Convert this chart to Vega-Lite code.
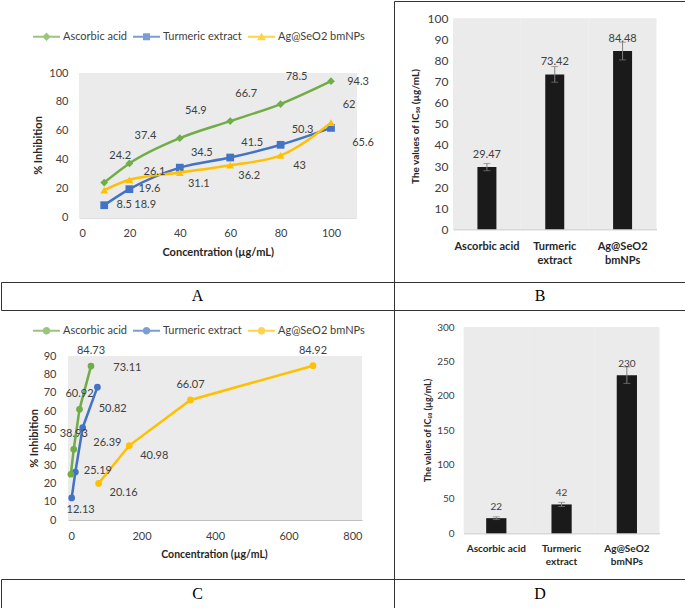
{
  "$schema": "https://vega.github.io/schema/vega-lite/v6.json",
  "padding": 0,
  "columns": 2,
  "spacing": 0,
  "bounds": "flush",
  "resolve": {"scale": {"color": "independent", "shape": "independent"}, "legend": {"color": "independent", "shape": "independent"}},
  "config": {
    "view": {"stroke": null},
    "font": "Lato",
    "text": {"font": "Lato"},
    "axis": {"grid": false, "ticks": false, "tickSize": 0, "labelFont": "Lato", "titleFont": "Lato", "labelColor": "#404040", "titleColor": "#262626"}
  },
  "datasets": {
    "a": [
      {"s": "Ascorbic acid", "x": 10, "v": 24.2},
      {"s": "Ascorbic acid", "x": 20, "v": 37.4},
      {"s": "Ascorbic acid", "x": 40, "v": 54.9},
      {"s": "Ascorbic acid", "x": 60, "v": 66.7},
      {"s": "Ascorbic acid", "x": 80, "v": 78.5},
      {"s": "Ascorbic acid", "x": 100, "v": 94.3},
      {"s": "Turmeric extract", "x": 10, "v": 8.5},
      {"s": "Turmeric extract", "x": 20, "v": 19.6},
      {"s": "Turmeric extract", "x": 40, "v": 34.5},
      {"s": "Turmeric extract", "x": 60, "v": 41.5},
      {"s": "Turmeric extract", "x": 80, "v": 50.3},
      {"s": "Turmeric extract", "x": 100, "v": 62},
      {"s": "Ag@SeO2 bmNPs", "x": 10, "v": 18.9},
      {"s": "Ag@SeO2 bmNPs", "x": 20, "v": 26.1},
      {"s": "Ag@SeO2 bmNPs", "x": 40, "v": 31.1},
      {"s": "Ag@SeO2 bmNPs", "x": 60, "v": 36.2},
      {"s": "Ag@SeO2 bmNPs", "x": 80, "v": 43},
      {"s": "Ag@SeO2 bmNPs", "x": 100, "v": 65.6}
    ],
    "c": [
      {"s": "Ascorbic acid", "x": 7.8, "v": 25.19},
      {"s": "Ascorbic acid", "x": 15.6, "v": 38.93},
      {"s": "Ascorbic acid", "x": 31.25, "v": 60.92},
      {"s": "Ascorbic acid", "x": 62.5, "v": 84.73},
      {"s": "Turmeric extract", "x": 10, "v": 12.13},
      {"s": "Turmeric extract", "x": 20, "v": 26.39},
      {"s": "Turmeric extract", "x": 40, "v": 50.82},
      {"s": "Turmeric extract", "x": 80, "v": 73.11},
      {"s": "Ag@SeO2 bmNPs", "x": 83.3, "v": 20.16},
      {"s": "Ag@SeO2 bmNPs", "x": 166.7, "v": 40.98},
      {"s": "Ag@SeO2 bmNPs", "x": 333.3, "v": 66.07},
      {"s": "Ag@SeO2 bmNPs", "x": 666.7, "v": 84.92}
    ],
    "b": [
      {"c": "Ascorbic acid", "v": 29.47, "err": 1.7},
      {"c": "Turmeric extract", "v": 73.42, "err": 3.7},
      {"c": "Ag@SeO2 bmNPs", "v": 84.48, "err": 4.2}
    ],
    "d": [
      {"c": "Ascorbic acid", "v": 22, "err": 2},
      {"c": "Turmeric extract", "v": 42, "err": 3},
      {"c": "Ag@SeO2 bmNPs", "v": 230, "err": 12}
    ]
  },
  "concat": [
    {
      "width": 393, "height": 281,
      "data": {"name": "a"},
      "encoding": {
        "x": {"field": "x", "type": "quantitative", "title": "Concentration (µg/mL)",
          "scale": {"domain": [0, 110], "range": [78, 355.2]},
          "axis": {"values": [0, 20, 40, 60, 80, 100], "offset": -64.5, "domainColor": "#bfbfbf", "labelFontSize": 11, "labelPadding": 16, "labelBaseline": "middle", "titleFontSize": 11, "titleFontWeight": "bold", "titleX": 216.7, "titleY": 35, "titleBaseline": "middle"}},
        "y": {"field": "v", "type": "quantitative", "title": "% Inhibition",
          "scale": {"domain": [0, 100], "range": [216.5, 72]},
          "axis": {"values": [0, 20, 40, 60, 80, 100], "offset": -78, "domain": false, "labelFontSize": 11, "labelPadding": 11, "labelBaseline": "middle", "titleFontSize": 11, "titleFontWeight": "bold", "titleX": -40.3, "titleY": 144, "titleBaseline": "middle"}}
      },
      "layer": [
        {"mark": {"type": "rect", "color": "#ebebeb"},
         "encoding": {"x": {"datum": 0}, "x2": {"datum": 110}, "y": {"datum": 0}, "y2": {"datum": 100}}},
        {"transform": [{"filter": "datum.s == 'Turmeric extract'"}],
         "mark": {"type": "line", "color": "#4472C4", "strokeWidth": 2.5, "interpolate": "monotone", "point": {"shape": "square", "size": 60, "filled": true, "color": "#4472C4"}}},
        {"transform": [{"filter": "datum.s == 'Ag@SeO2 bmNPs'"}],
         "mark": {"type": "line", "color": "#FFC000", "strokeWidth": 2.5, "interpolate": "monotone", "point": {"shape": "triangle-up", "size": 60, "filled": true, "color": "#FFC000"}}},
        {"transform": [{"filter": "datum.s == 'Ascorbic acid'"}],
         "mark": {"type": "line", "color": "#70AD47", "strokeWidth": 2.5, "interpolate": "monotone", "point": {"shape": "diamond", "size": 60, "filled": true, "color": "#70AD47"}}},
        {"transform": [{"filter": "false"}],
         "mark": {"type": "point", "filled": true},
         "encoding": {
           "color": {"field": "s", "type": "nominal", "scale": {"domain": ["Ascorbic acid", "Turmeric extract", "Ag@SeO2 bmNPs"], "range": ["#70AD47", "#4472C4", "#FFC000"]},
             "legend": {"orient": "none", "legendX": 40, "legendY": 30, "direction": "horizontal", "title": null, "symbolSize": 100, "symbolStrokeWidth": 0, "labelFont": "Lato", "labelFontSize": 11, "labelColor": "#404040", "labelOffset": 11, "columnPadding": 6, "padding": 0, "labelLimit": 200}},
           "shape": {"field": "s", "type": "nominal", "scale": {"domain": ["Ascorbic acid", "Turmeric extract", "Ag@SeO2 bmNPs"], "range": ["M-2.7,-0.2H2.7V0.2H-2.7Z M0,-0.85L0.85,0L0,0.85L-0.85,0Z", "M-2.7,-0.2H2.7V0.2H-2.7Z M-0.7,-0.7H0.7V0.7H-0.7Z", "M-2.7,-0.2H2.7V0.2H-2.7Z M0,-0.85L0.9,0.7H-0.9Z"]},
             "legend": {"orient": "none", "legendX": 40, "legendY": 30, "direction": "horizontal", "title": null, "symbolSize": 100, "symbolStrokeWidth": 0, "labelFont": "Lato", "labelFontSize": 11, "labelColor": "#404040", "labelOffset": 11, "columnPadding": 6, "padding": 0, "labelLimit": 200}}
         }},
        {"transform": [{"filter": "datum.s == 'Ascorbic acid' && datum.x < 100"}], "mark": {"type": "text", "dx": 16, "dy": -27, "fontSize": 11, "color": "#404040"}, "encoding": {"text": {"field": "v", "type": "nominal"}}},
        {"transform": [{"filter": "datum.s == 'Ascorbic acid' && datum.x == 100"}], "mark": {"type": "text", "dx": 27, "dy": 1, "fontSize": 11, "color": "#404040"}, "encoding": {"text": {"field": "v", "type": "nominal"}}},
        {"transform": [{"filter": "datum.s == 'Turmeric extract' && datum.x <= 20"}], "mark": {"type": "text", "dx": 20, "dy": 0, "fontSize": 11, "color": "#404040"}, "encoding": {"text": {"field": "v", "type": "nominal"}}},
        {"transform": [{"filter": "datum.s == 'Turmeric extract' && datum.x >= 40 && datum.x <= 80"}], "mark": {"type": "text", "dx": 22, "dy": -15, "fontSize": 11, "color": "#404040"}, "encoding": {"text": {"field": "v", "type": "nominal"}}},
        {"transform": [{"filter": "datum.s == 'Turmeric extract' && datum.x == 100"}], "mark": {"type": "text", "dx": 18, "dy": -23, "fontSize": 11, "color": "#404040"}, "encoding": {"text": {"field": "v", "type": "nominal"}}},
        {"transform": [{"filter": "datum.s == 'Ag@SeO2 bmNPs' && datum.x == 10"}], "mark": {"type": "text", "dx": 41, "dy": 15, "fontSize": 11, "color": "#404040"}, "encoding": {"text": {"field": "v", "type": "nominal"}}},
        {"transform": [{"filter": "datum.s == 'Ag@SeO2 bmNPs' && datum.x == 20"}], "mark": {"type": "text", "dx": 25, "dy": -8, "fontSize": 11, "color": "#404040"}, "encoding": {"text": {"field": "v", "type": "nominal"}}},
        {"transform": [{"filter": "datum.s == 'Ag@SeO2 bmNPs' && datum.x >= 40 && datum.x <= 80"}], "mark": {"type": "text", "dx": 19, "dy": 11, "fontSize": 11, "color": "#404040"}, "encoding": {"text": {"field": "v", "type": "nominal"}}},
        {"transform": [{"filter": "datum.s == 'Ag@SeO2 bmNPs' && datum.x == 100"}], "mark": {"type": "text", "dx": 32, "dy": 20, "fontSize": 11, "color": "#404040"}, "encoding": {"text": {"field": "v", "type": "nominal"}}}
      ]
    },
    {
      "width": 292, "height": 281,
      "view": {"stroke": "#333", "strokeWidth": 1},
      "data": {"name": "b"},
      "encoding": {
        "x": {"field": "c", "type": "nominal", "sort": null, "title": null,
          "scale": {"type": "band", "domain": ["Ascorbic acid", "Turmeric extract", "Ag@SeO2 bmNPs"], "range": [59, 262.5], "paddingInner": 0.72, "paddingOuter": 0.36},
          "axis": {"offset": -52.7, "labelAngle": 0, "domainColor": "#bfbfbf", "labelFontSize": 11, "labelFontWeight": "bold", "labelColor": "#262626", "labelPadding": 11, "labelBaseline": "top", "labelLineHeight": 14, "labelLimit": 200, "labelExpr": "datum.label == 'Ascorbic acid' ? datum.label : split(datum.label, ' ')"}},
        "y": {"field": "v", "type": "quantitative", "title": "The values of IC₅₀ (µg/mL)",
          "scale": {"domain": [0, 100], "range": [228.3, 17.3]},
          "axis": {"values": [0, 10, 20, 30, 40, 50, 60, 70, 80, 90, 100], "offset": -59, "domain": false, "labelFontSize": 12, "labelPadding": 5, "labelBaseline": "middle", "titleFontSize": 10, "titleFontWeight": "bold", "titleX": -38, "titleY": 125, "titleBaseline": "middle"}}
      },
      "layer": [
        {"mark": {"type": "bar", "fill": "#ebebeb", "width": {"band": 3.5714}}, "encoding": {"y": {"datum": 100}, "y2": {"datum": 0}}},
        {"mark": {"type": "bar", "fill": "#1a1a1a"}},
        {"mark": {"type": "errorbar", "color": "#7f7f7f", "ticks": {"size": 7}}, "encoding": {"yError": {"field": "err"}}},
        {"mark": {"type": "text", "dy": -12, "fontSize": 11, "color": "#404040"}, "encoding": {"text": {"field": "v", "type": "nominal"}}}
      ]
    },
    {
      "width": 393, "height": 28,
      "view": {"stroke": "#333", "strokeWidth": 1},
      "data": {"values": [{"t": "A"}]},
      "mark": {"type": "text", "font": "Liberation Serif", "fontSize": 16, "color": "#000"},
      "encoding": {"text": {"field": "t"}}
    },
    {
      "width": 292, "height": 28,
      "view": {"stroke": "#333", "strokeWidth": 1},
      "data": {"values": [{"t": "B"}]},
      "mark": {"type": "text", "font": "Liberation Serif", "fontSize": 16, "color": "#000"},
      "encoding": {"text": {"field": "t"}}
    },
    {
      "width": 393, "height": 269,
      "data": {"name": "c"},
      "encoding": {
        "x": {"field": "x", "type": "quantitative", "title": "Concentration (µg/mL)",
          "scale": {"domain": [0, 800], "range": [67, 361]},
          "axis": {"values": [0, 200, 400, 600, 800], "offset": -59, "domainColor": "#bfbfbf", "labelFontSize": 11, "labelPadding": 16, "labelBaseline": "middle", "titleFontSize": 10.5, "titleFontWeight": "bold", "titleX": 213, "titleY": 34, "titleBaseline": "middle"}},
        "y": {"field": "v", "type": "quantitative", "title": "% Inhibition",
          "scale": {"domain": [0, 90], "range": [210, 46.5]},
          "axis": {"values": [0, 10, 20, 30, 40, 50, 60, 70, 80, 90], "offset": -67, "domain": false, "labelFontSize": 11, "labelPadding": 12, "labelBaseline": "middle", "titleFontSize": 11, "titleFontWeight": "bold", "titleX": -34, "titleY": 128, "titleBaseline": "middle"}}
      },
      "layer": [
        {"mark": {"type": "rect", "color": "#ebebeb"},
         "encoding": {"x": {"datum": 0}, "x2": {"datum": 800}, "y": {"datum": 0}, "y2": {"datum": 90}}},
        {"transform": [{"filter": "datum.s == 'Ag@SeO2 bmNPs'"}],
         "mark": {"type": "line", "color": "#FFC000", "strokeWidth": 2.5, "point": {"shape": "circle", "size": 45, "filled": true, "color": "#FFC000"}}},
        {"transform": [{"filter": "datum.s == 'Turmeric extract'"}],
         "mark": {"type": "line", "color": "#4472C4", "strokeWidth": 2.5, "point": {"shape": "circle", "size": 45, "filled": true, "color": "#4472C4"}}},
        {"transform": [{"filter": "datum.s == 'Ascorbic acid'"}],
         "mark": {"type": "line", "color": "#70AD47", "strokeWidth": 2.5, "point": {"shape": "circle", "size": 45, "filled": true, "color": "#70AD47"}}},
        {"transform": [{"filter": "false"}],
         "mark": {"type": "point", "filled": true},
         "encoding": {
           "color": {"field": "s", "type": "nominal", "scale": {"domain": ["Ascorbic acid", "Turmeric extract", "Ag@SeO2 bmNPs"], "range": ["#70AD47", "#4472C4", "#FFC000"]},
             "legend": {"orient": "none", "legendX": 40, "legendY": 15, "direction": "horizontal", "title": null, "symbolSize": 100, "symbolStrokeWidth": 0, "labelFont": "Lato", "labelFontSize": 11, "labelColor": "#404040", "labelOffset": 11, "columnPadding": 6, "padding": 0, "labelLimit": 200}},
           "shape": {"field": "s", "type": "nominal", "scale": {"domain": ["Ascorbic acid", "Turmeric extract", "Ag@SeO2 bmNPs"], "range": ["M-2.7,-0.2H2.7V0.2H-2.7Z M-0.75,0A0.75,0.75 0 1,1 0.75,0A0.75,0.75 0 1,1 -0.75,0Z", "M-2.7,-0.2H2.7V0.2H-2.7Z M-0.75,0A0.75,0.75 0 1,1 0.75,0A0.75,0.75 0 1,1 -0.75,0Z", "M-2.7,-0.2H2.7V0.2H-2.7Z M-0.75,0A0.75,0.75 0 1,1 0.75,0A0.75,0.75 0 1,1 -0.75,0Z"]},
             "legend": {"orient": "none", "legendX": 40, "legendY": 15, "direction": "horizontal", "title": null, "symbolSize": 100, "symbolStrokeWidth": 0, "labelFont": "Lato", "labelFontSize": 11, "labelColor": "#404040", "labelOffset": 11, "columnPadding": 6, "padding": 0, "labelLimit": 200}}
         }},
        {"transform": [{"filter": "(datum.s == 'Ascorbic acid' && datum.v > 30) || (datum.s == 'Ag@SeO2 bmNPs' && datum.v > 60)"}], "mark": {"type": "text", "dx": 0, "dy": -15, "fontSize": 11, "color": "#404040"}, "encoding": {"text": {"field": "v", "type": "nominal"}}},
        {"transform": [{"filter": "datum.s == 'Ascorbic acid' && datum.v < 30"}], "mark": {"type": "text", "dx": 27, "dy": -3, "fontSize": 11, "color": "#404040"}, "encoding": {"text": {"field": "v", "type": "nominal"}}},
        {"transform": [{"filter": "datum.s == 'Turmeric extract' && datum.v < 20"}], "mark": {"type": "text", "dx": 9, "dy": 12, "fontSize": 11, "color": "#404040"}, "encoding": {"text": {"field": "v", "type": "nominal"}}},
        {"transform": [{"filter": "datum.s == 'Turmeric extract' && datum.v > 20 && datum.v < 40"}], "mark": {"type": "text", "dx": 32, "dy": -29, "fontSize": 11, "color": "#404040"}, "encoding": {"text": {"field": "v", "type": "nominal"}}},
        {"transform": [{"filter": "datum.s == 'Turmeric extract' && datum.v > 40"}], "mark": {"type": "text", "dx": 30, "dy": -19, "fontSize": 11, "color": "#404040"}, "encoding": {"text": {"field": "v", "type": "nominal"}}},
        {"transform": [{"filter": "datum.s == 'Ag@SeO2 bmNPs' && datum.v < 50"}], "mark": {"type": "text", "dx": 25, "dy": 10, "fontSize": 11, "color": "#404040"}, "encoding": {"text": {"field": "v", "type": "nominal"}}}
      ]
    },
    {
      "width": 292, "height": 269,
      "view": {"stroke": "#333", "strokeWidth": 1},
      "data": {"name": "d"},
      "encoding": {
        "x": {"field": "c", "type": "nominal", "sort": null, "title": null,
          "scale": {"type": "band", "domain": ["Ascorbic acid", "Turmeric extract", "Ag@SeO2 bmNPs"], "range": [69.65, 265.5], "paddingInner": 0.69, "paddingOuter": 0.345},
          "axis": {"offset": -45.7, "labelAngle": 0, "domainColor": "#bfbfbf", "labelFontSize": 10, "labelFontWeight": "bold", "labelColor": "#262626", "labelPadding": 10.4, "labelBaseline": "top", "labelLineHeight": 13, "labelLimit": 200, "labelExpr": "datum.label == 'Ascorbic acid' ? datum.label : split(datum.label, ' ')"}},
        "y": {"field": "v", "type": "quantitative", "title": "The values of IC₅₀ (µg/mL)",
          "scale": {"domain": [0, 300], "range": [223.3, 17]},
          "axis": {"values": [0, 50, 100, 150, 200, 250, 300], "offset": -69.65, "domain": false, "labelFontSize": 10, "labelPadding": 9.6, "labelBaseline": "middle", "titleFontSize": 9, "titleFontWeight": "bold", "titleX": -35.7, "titleY": 120, "titleBaseline": "middle"}}
      },
      "layer": [
        {"mark": {"type": "bar", "fill": "#ebebeb", "width": {"band": 3.2258}}, "encoding": {"y": {"datum": 300}, "y2": {"datum": 0}}},
        {"mark": {"type": "bar", "fill": "#1a1a1a"}},
        {"mark": {"type": "errorbar", "color": "#7f7f7f", "ticks": {"size": 7}}, "encoding": {"yError": {"field": "err"}}},
        {"mark": {"type": "text", "dy": -11, "fontSize": 10, "color": "#404040"}, "encoding": {"text": {"field": "v", "type": "nominal"}}}
      ]
    },
    {
      "width": 393, "height": 30,
      "view": {"stroke": "#333", "strokeWidth": 1},
      "data": {"values": [{"t": "C"}]},
      "mark": {"type": "text", "font": "Liberation Serif", "fontSize": 16, "color": "#000"},
      "encoding": {"text": {"field": "t"}}
    },
    {
      "width": 292, "height": 30,
      "view": {"stroke": "#333", "strokeWidth": 1},
      "data": {"values": [{"t": "D"}]},
      "mark": {"type": "text", "font": "Liberation Serif", "fontSize": 16, "color": "#000"},
      "encoding": {"text": {"field": "t"}}
    }
  ]
}
